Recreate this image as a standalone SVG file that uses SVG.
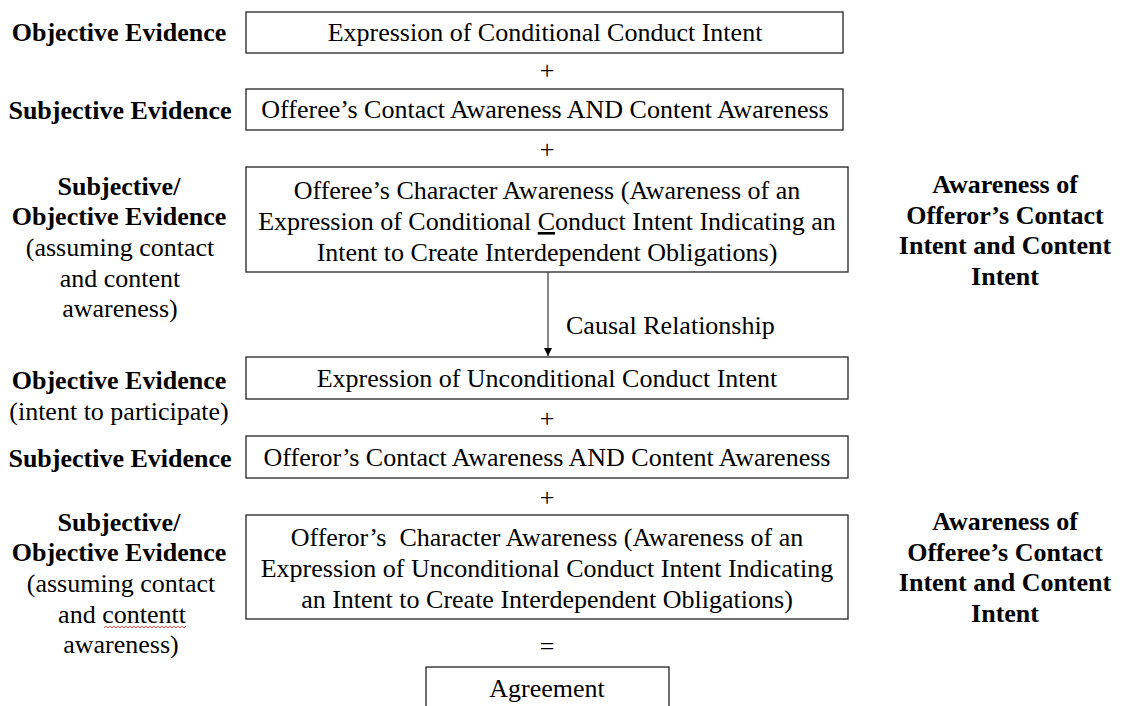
<svg xmlns="http://www.w3.org/2000/svg" width="1126" height="706" viewBox="0 0 1126 706">
<style>
text{font-family:"Liberation Serif","Times New Roman",serif;font-size:26px;fill:#000}
.b{font-weight:bold}
.m{text-anchor:middle}
.box{fill:#fff;stroke:#222;stroke-width:1.3}
.conn{stroke:#444;stroke-width:1.3;fill:none}
</style>
<defs>
<marker id="ah" viewBox="0 0 10 10" refX="10" refY="5" markerWidth="8" markerHeight="8" markerUnits="userSpaceOnUse" orient="auto">
<path d="M0,0 L10,5 L0,10 z" fill="#000"/>
</marker>
</defs>
<rect width="1126" height="706" fill="#fff"/>

<g id="labels-left">
<text class="m b" x="119" y="41">Objective Evidence</text>
<text class="m b" x="120" y="119">Subjective Evidence</text>
<text class="m b" x="119" y="195">Subjective/</text>
<text class="m b" x="119" y="225">Objective Evidence</text>
<text class="m" x="120" y="256">(assuming contact</text>
<text class="m" x="120" y="287">and content</text>
<text class="m" x="120" y="317">awareness)</text>
<text class="m b" x="119" y="389">Objective Evidence</text>
<text class="m" x="119" y="420">(intent to participate)</text>
<text class="m b" x="120" y="467">Subjective Evidence</text>
<text class="m b" x="119" y="531">Subjective/</text>
<text class="m b" x="119" y="561">Objective Evidence</text>
<text class="m" x="121" y="592">(assuming contact</text>
<text class="m" x="122" y="623">and contentt</text>
<text class="m" x="121" y="653">awareness)</text>
<path d="M104,628 l2,-2 l2,2 l2,-2 l2,2 l2,-2 l2,2 l2,-2 l2,2 l2,-2 l2,2 l2,-2 l2,2 l2,-2 l2,2 l2,-2 l2,2 l2,-2 l2,2 l2,-2 l2,2 l2,-2 l2,2 l2,-2 l2,2 l2,-2 l2,2 l2,-2 l2,2 l2,-2 l2,2 l2,-2 l2,2 l2,-2 l2,2 l2,-2 l2,2 l2,-2 l2,2 l2,-2 l2,2 l2,-2" fill="none" stroke="#e02020" stroke-width="0.8"/>
</g>

<g id="labels-right">
<text class="m b" x="1005" y="193">Awareness of</text>
<text class="m b" x="1005" y="224">Offeror’s Contact</text>
<text class="m b" x="1005" y="254">Intent and Content</text>
<text class="m b" x="1005" y="285">Intent</text>
<text class="m b" x="1005" y="530">Awareness of</text>
<text class="m b" x="1005" y="561">Offeree’s Contact</text>
<text class="m b" x="1005" y="591">Intent and Content</text>
<text class="m b" x="1005" y="622">Intent</text>
</g>

<g id="n1">
<rect class="box" x="246" y="12" width="597" height="41"/>
<text class="m" x="545" y="41">Expression of Conditional Conduct Intent</text>
</g>
<g id="n2">
<rect class="box" x="246" y="89" width="597" height="41"/>
<text class="m" x="545" y="118">Offeree’s Contact Awareness AND Content Awareness</text>
</g>
<g id="n3">
<rect class="box" x="246" y="167" width="602" height="105"/>
<text class="m" x="547" y="199">Offeree’s Character Awareness (Awareness of an</text>
<text class="m" x="547" y="230">Expression of Conditional <tspan text-decoration="underline">C</tspan>onduct Intent Indicating an</text>
<text class="m" x="547" y="261">Intent to Create Interdependent Obligations)</text>
</g>
<g id="n4">
<rect class="box" x="246" y="357" width="602" height="42"/>
<text class="m" x="547" y="387">Expression of Unconditional Conduct Intent</text>
</g>
<g id="n5">
<rect class="box" x="246" y="436" width="602" height="42"/>
<text class="m" x="547" y="466">Offeror’s Contact Awareness AND Content Awareness</text>
</g>
<g id="n6">
<rect class="box" x="246" y="515" width="602" height="104"/>
<text class="m" x="547" y="546" xml:space="preserve">Offeror’s  Character Awareness (Awareness of an</text>
<text class="m" x="547" y="577">Expression of Unconditional Conduct Intent Indicating</text>
<text class="m" x="547" y="608">an Intent to Create Interdependent Obligations)</text>
</g>
<g id="n7">
<rect class="box" x="426" y="667" width="243" height="50"/>
<text class="m" x="547" y="697">Agreement</text>
</g>

<g id="operators">
<text class="m" x="547" y="79">+</text>
<text class="m" x="547" y="158">+</text>
<text class="m" x="547" y="427">+</text>
<text class="m" x="547" y="506">+</text>
<text class="m" x="547" y="655">=</text>
</g>

<g id="connectors">
<line class="conn" x1="548" y1="272" x2="548" y2="356" marker-end="url(#ah)"/>
<text x="566" y="334">Causal Relationship</text>
</g>
</svg>
